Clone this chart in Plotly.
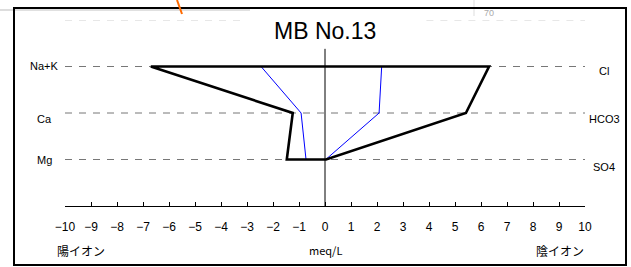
import plotly.graph_objects as go

# ---- data ----
cations = ["Na+K", "Ca", "Mg"]
anions = ["Cl", "HCO3", "SO4"]
row_pos = [3, 2, 1]

# sample 1 (black outline), meq/L
cation_vals_1 = [6.70, 1.24, 1.47]
anion_vals_1 = [6.31, 5.42, 0.04]
# sample 2 (blue outline), meq/L
cation_vals_2 = [2.46, 0.92, 0.73]
anion_vals_2 = [2.18, 2.08, 0.03]

tick_vals = list(range(-10, 11))
tick_text = [str(abs(v)) if v >= 0 else "\u2212" + str(abs(v)) for v in tick_vals]

title_text = "MB No.13"

W, H = 631, 267
L, R, T, B = 65, 46, 20, 61
PW, PH = W - L - R, H - T - B


def px(xp):
    return (xp - L) / PW


def py(yp):
    return (H - B - yp) / PH


def stiff(cv, av):
    xs = [-v for v in cv] + [v for v in av[::-1]] + [-cv[0]]
    ys = row_pos + row_pos[::-1] + [row_pos[0]]
    return xs, ys


fig = go.Figure()
x2, y2 = stiff(cation_vals_2, anion_vals_2)
fig.add_trace(go.Scatter(x=x2, y=y2, mode="lines",
                         line=dict(color="#0000ff", width=1), hoverinfo="skip"))
x1, y1 = stiff(cation_vals_1, anion_vals_1)
fig.add_trace(go.Scatter(x=x1, y=y1, mode="lines",
                         line=dict(color="black", width=2.6), hoverinfo="skip"))

shapes = []
# dashed row lines
for r in row_pos:
    shapes.append(dict(type="line", xref="x", yref="y", x0=-10, x1=10, y0=r, y1=r,
                       line=dict(color="#777777", width=1, dash="7px,7px"), layer="below"))
# faint top dashed line (interrupted by title)
for a, b in [(-10, -3.15), (3.9, 10)]:
    shapes.append(dict(type="line", xref="x", yref="y", x0=a, x1=b, y0=4, y1=4,
                       line=dict(color="#d0d0d0", width=1, dash="7px,7px"), layer="below"))
# center line
shapes.append(dict(type="line", xref="x", yref="y", x0=0, x1=0, y0=0, y1=3.38,
                   line=dict(color="black", width=1), layer="below"))
# faint background artifacts
shapes.append(dict(type="line", xref="paper", yref="paper",
                   x0=px(15), x1=px(250), y0=py(10), y1=py(10),
                   line=dict(color="#e0e0e0", width=2), layer="below"))
shapes.append(dict(type="line", xref="paper", yref="paper",
                   x0=px(474), x1=px(474), y0=py(0), y1=py(16),
                   line=dict(color="#dddddd", width=1), layer="below"))
shapes.append(dict(type="line", xref="paper", yref="paper",
                   x0=px(0), x1=px(13), y0=py(10), y1=py(10),
                   line=dict(color="#dddddd", width=2)))
# frame
shapes.append(dict(type="rect", xref="paper", yref="paper",
                   x0=px(14), x1=px(626), y0=py(265), y1=py(8),
                   line=dict(color="black", width=2)))
shapes.append(dict(type="line", xref="paper", yref="paper",
                   x0=px(177), x1=px(182), y0=py(0), y1=py(14),
                   line=dict(color="#ff6a00", width=2)))


def note(text, x, y, font, yref="paper", yshift=0):
    return dict(text=text, xref="paper", yref=yref, x=x, y=y, yshift=yshift,
                xanchor="center", yanchor="middle", showarrow=False, font=font)


ann = []
ann.append(note(title_text, px(325), py(31),
                dict(family="Liberation Sans, Arial", size=23, color="black")))
lab_font = dict(family="Liberation Sans, Arial", size=11, color="black")
left_shift = [1, -6, 0]
right_shift = [-4, -6, -7]
for i, r in enumerate(row_pos):
    ann.append(note(cations[i], px(44), r, lab_font, yref="y", yshift=left_shift[i]))
    ann.append(note(anions[i], px(604), r, lab_font, yref="y", yshift=right_shift[i]))
jp_font = dict(family="Noto Sans CJK JP", size=12, color="black")
ann.append(note("陽イオン", px(81), py(250), jp_font))
ann.append(note("meq/L", px(325), py(250), dict(family="Noto Sans CJK JP", size=11, color="black")))
ann.append(note("陰イオン", px(560), py(250), jp_font))
ann.append(note("70", px(489), py(13), dict(family="Liberation Sans, Arial", size=9, color="#aaaaaa")))

fig.update_layout(
    width=W, height=H,
    margin=dict(l=L, r=R, t=T, b=B, pad=0),
    paper_bgcolor="white", plot_bgcolor="white",
    showlegend=False,
    shapes=shapes, annotations=ann,
    xaxis=dict(range=[-10, 10], tickmode="array", tickvals=tick_vals, ticktext=tick_text,
               showline=True, linecolor="black", linewidth=1,
               ticks="inside", ticklen=4, tickcolor="black", tickwidth=1,
               showgrid=False, zeroline=False, fixedrange=True,
               ticklabelstandoff=10,
               tickfont=dict(family="Liberation Sans, Arial", size=12, color="black")),
    yaxis=dict(range=[0, 4], visible=False, fixedrange=True),
)

fig.write_html("out.html", config={"displayModeBar": False},
               post_script="document.body.style.margin='0';document.body.style.overflow='hidden';")
